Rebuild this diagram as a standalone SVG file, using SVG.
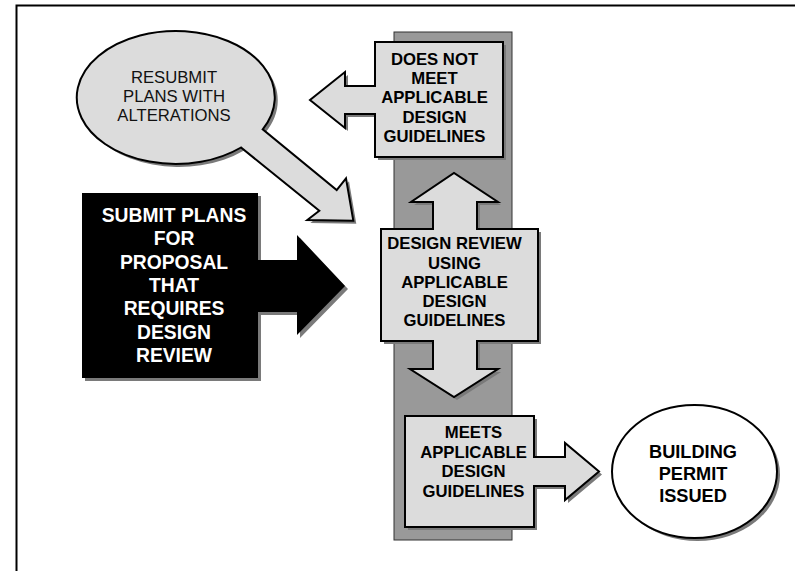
<svg xmlns="http://www.w3.org/2000/svg" width="795" height="571" viewBox="0 0 795 571">
<style>
.shape{fill:#dcdcdc;stroke:#000;stroke-width:2;stroke-linejoin:miter}
.shadow{fill:#7a7a7a;stroke:none}
.bt{font-family:"Liberation Sans",Arial,sans-serif;font-weight:bold;font-size:16.7px;fill:#000;text-anchor:middle}
.rt{font-family:"Liberation Sans",Arial,sans-serif;font-size:16.7px;fill:#111;text-anchor:middle}
.wt{font-family:"Liberation Sans",Arial,sans-serif;font-weight:bold;font-size:19.3px;fill:#fff;text-anchor:middle}
.pt{font-family:"Liberation Sans",Arial,sans-serif;font-weight:bold;font-size:18.2px;fill:#000;text-anchor:middle}
</style>
<rect x="0" y="0" width="795" height="571" fill="#fff"/>
<rect x="16.5" y="5.5" width="800" height="600" fill="none" stroke="#000" stroke-width="2"/>

<g id="column">
<rect x="394" y="32" width="118" height="508" fill="#999" stroke="#333" stroke-width="1"/>
</g>

<g id="resubmit">
<path class="shadow" transform="translate(3,3)" d="M262.7,129.3 A99 66.5 0 1 0 241,147.5 L319.3,210.7 L307.3,220 L353.3,220.7 L346,178.3 L336.7,190 Z"/>
<path class="shape" d="M262.7,129.3 A99 66.5 0 1 0 241,147.5 L319.3,210.7 L307.3,220 L353.3,220.7 L346,178.3 L336.7,190 Z"/>
<text class="rt" x="174" y="83.3">RESUBMIT</text>
<text class="rt" x="174" y="102.3">PLANS WITH</text>
<text class="rt" x="174" y="121">ALTERATIONS</text>
</g>

<g id="does-not-meet">
<path class="shadow" transform="translate(3,3)" d="M375,42 H503 V157 H375 V114 H345 V128 L310,100 L345,72 V86 H375 Z"/>
<path class="shape" d="M375,42 H503 V157 H375 V114 H345 V128 L310,100 L345,72 V86 H375 Z"/>
<text class="bt" x="434.5" y="65">DOES NOT</text>
<text class="bt" x="434.5" y="84">MEET</text>
<text class="bt" x="434.5" y="103.3">APPLICABLE</text>
<text class="bt" x="434.5" y="122.7">DESIGN</text>
<text class="bt" x="434.5" y="142.3">GUIDELINES</text>
</g>

<g id="submit">
<path class="shadow" transform="translate(3,3)" d="M82,193 H258 V260 H297 V235 L345,286 L297,335 V312 H258 V378 H82 Z"/>
<path d="M82,193 H258 V260 H297 V235 L345,286 L297,335 V312 H258 V378 H82 Z" fill="#000"/>
<text class="wt" x="174" y="222">SUBMIT PLANS</text>
<text class="wt" x="174" y="245.3">FOR</text>
<text class="wt" x="174" y="268.6">PROPOSAL</text>
<text class="wt" x="174" y="291.9">THAT</text>
<text class="wt" x="174" y="315.2">REQUIRES</text>
<text class="wt" x="174" y="338.5">DESIGN</text>
<text class="wt" x="174" y="361.8">REVIEW</text>
</g>

<g id="design-review">
<path class="shadow" transform="translate(3,3)" d="M381,229 H433 V202 H411 L454,173 L498,202 H477 V229 H538 V341 H477 V369 H498 L454,397 L410,369 H433 V341 H381 Z"/>
<path class="shape" d="M381,229 H433 V202 H411 L454,173 L498,202 H477 V229 H538 V341 H477 V369 H498 L454,397 L410,369 H433 V341 H381 Z"/>
<text class="bt" x="454.5" y="249.3">DESIGN REVIEW</text>
<text class="bt" x="454.5" y="268.5">USING</text>
<text class="bt" x="454.5" y="287.7">APPLICABLE</text>
<text class="bt" x="454.5" y="306.9">DESIGN</text>
<text class="bt" x="454.5" y="326.4">GUIDELINES</text>
</g>

<g id="meets">
<path class="shadow" transform="translate(3,3)" d="M405,416 H534 V457 H565 V443 L599,471.5 L565,500 V486 H534 V527 H405 Z"/>
<path class="shape" d="M405,416 H534 V457 H565 V443 L599,471.5 L565,500 V486 H534 V527 H405 Z"/>
<text class="bt" x="473.5" y="438.3">MEETS</text>
<text class="bt" x="473.5" y="458">APPLICABLE</text>
<text class="bt" x="473.5" y="477.4">DESIGN</text>
<text class="bt" x="473.5" y="496.8">GUIDELINES</text>
</g>

<g id="permit">
<ellipse class="shadow" cx="697.5" cy="474.5" rx="82.5" ry="66.5"/>
<ellipse cx="694.5" cy="471.5" rx="82.5" ry="66.5" fill="#fff" stroke="#000" stroke-width="2"/>
<text class="pt" x="693" y="457.7">BUILDING</text>
<text class="pt" x="693" y="479.8">PERMIT</text>
<text class="pt" x="693" y="501.8">ISSUED</text>
</g>
</svg>
